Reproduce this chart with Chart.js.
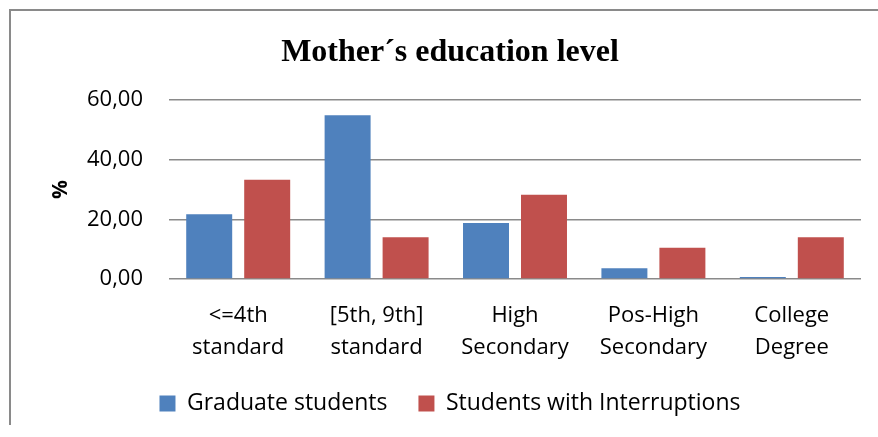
<!DOCTYPE html>
<html>
<head>
<meta charset="utf-8">
<script src="https://cdn.jsdelivr.net/npm/chart.js@4.4.1/dist/chart.umd.min.js"></script>
<style>
  html, body { margin: 0; padding: 0; background: #fff; overflow: hidden; }
  .frame {
    position: absolute;
    left: 9px;
    top: 9px;
    border-left: 2px solid #8a8a8a;
    border-top: 2px solid #8a8a8a;
  }
  canvas { display: block; }
</style>
</head>
<body>
<div class="frame">
  <canvas id="chart" width="878" height="414"></canvas>
</div>
<script>
// categories (two-line labels like the original)
const categories = [
  ["<=4th", "standard"],
  ["[5th, 9th]", "standard"],
  ["High", "Secondary"],
  ["Pos-High", "Secondary"],
  ["College", "Degree"],
];

// % values
const graduateStudents = [21.7, 54.9, 18.8, 3.6, 0.7];
const withInterruptions = [33.3, 14.0, 28.2, 10.5, 14.0];

const yTicks = [0, 20, 40, 60];

const labelFont = { family: "'Open Sans', sans-serif", size: 22 };

const chartConfig = {
  type: "bar",
  data: {
    labels: categories,
    datasets: [
      {
        label: "Graduate students",
        data: graduateStudents,
        backgroundColor: "#4f81bd",
        barPercentage: 0.793,
        categoryPercentage: 0.838,
      },
      {
        label: "Students with Interruptions",
        data: withInterruptions,
        backgroundColor: "#c0504d",
        barPercentage: 0.793,
        categoryPercentage: 0.838,
      },
    ],
  },
  options: {
    responsive: false,
    animation: false,
    // same padding both sides so title/legend stay centred on the frame
    layout: { padding: { left: 28, right: 28, top: 0, bottom: 0 } },
    scales: {
      x: {
        grid: { display: false },
        border: { display: false },
        ticks: {
          color: "#000",
          font: { ...labelFont, lineHeight: 1.4545 },
          padding: 13,
          maxRotation: 0,
          autoSkip: false,
        },
        afterFit: (scale) => {
          scale.height = 82;
        },
      },
      y: {
        min: 0,
        max: 60,
        afterBuildTicks: (scale) => {
          scale.ticks = yTicks.map((v) => ({ value: v }));
        },
        grid: { color: "#8a8a8a", lineWidth: 1.5, drawTicks: false },
        border: { display: false },
        ticks: {
          color: "#000",
          font: labelFont,
          padding: 26,
          callback: (v) => v.toFixed(2).replace(".", ","),
        },
        title: {
          display: true,
          text: "%",
          color: "#000",
          font: { family: "'Open Sans', sans-serif", size: 21, weight: "bold" },
          padding: { top: 9.4, bottom: 0 },
        },
        afterFit: (scale) => {
          scale.width = 130;
        },
      },
    },
    plugins: {
      title: {
        display: true,
        text: "Mother\u00b4s education level",
        color: "#000",
        font: { family: "'Liberation Serif', serif", size: 32, weight: "bold" },
        padding: { top: 23, bottom: 27.6 },
      },
      legend: {
        position: "bottom",
        labels: {
          color: "#000",
          font: { ...labelFont, size: 23 },
          boxWidth: 16,
          boxHeight: 16,
          padding: 31,
        },
      },
      tooltip: { enabled: false },
    },
  },
};

new Chart(document.getElementById("chart"), chartConfig);
</script>
</body>
</html>
